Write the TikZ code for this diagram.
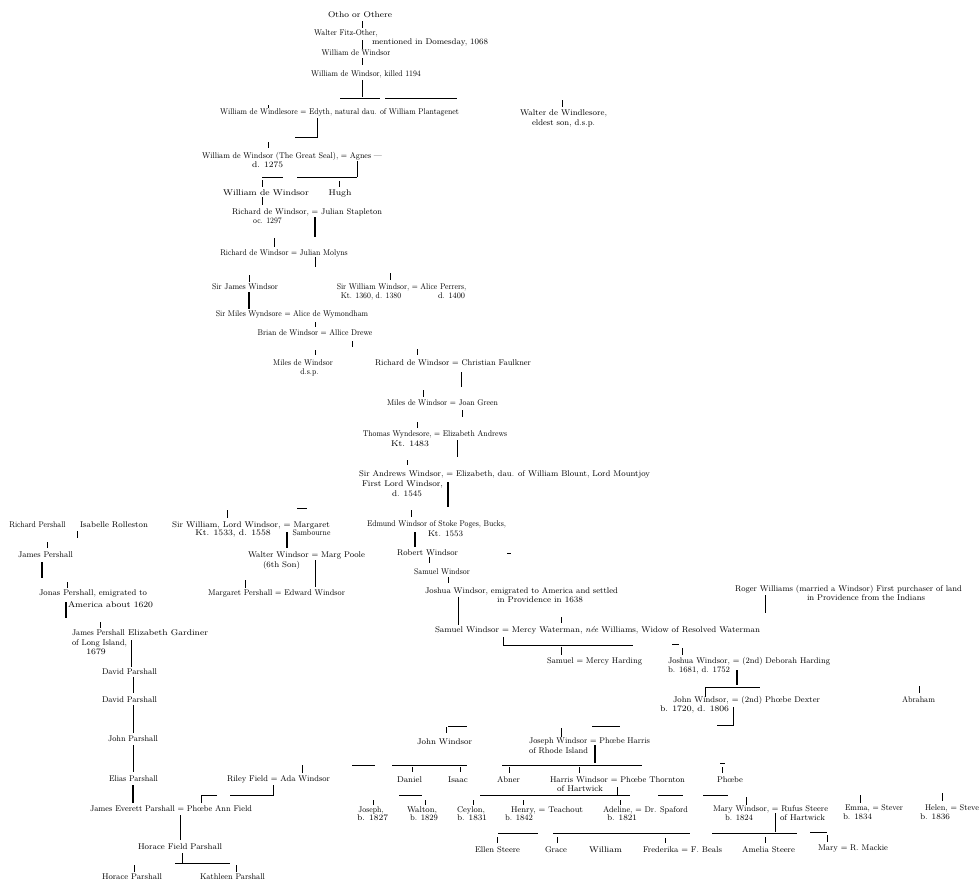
\documentclass[tikz,border=0pt]{standalone}
\newlength\Twd
\newsavebox\Tbox
\begin{document}
\begin{tikzpicture}[x=1pt,y=-1pt,
  nm/.style={anchor=center,inner sep=0pt,font=\fontsize{8.3}{10}\selectfont},
  ln/.style={line width=0.6pt},
  lnb/.style={line width=1.1pt}]
\useasboundingbox[fill=white] (0,0) rectangle (979,892);
\newcommand\Tx[5]{%
  \node[nm] (#1) at ({#2+#4/2},#3) {\sbox\Tbox{#5}\setlength\Twd{\wd\Tbox}%
    \pgfmathsetmacro\Tr{max(0.88,min(1.1,#4/\Twd))}\scalebox{\Tr}[1]{\usebox\Tbox}};}
% ---------- Windsor main line ----------
\Tx{otho}{328}{15}{64}{Otho or Othere}
\Tx{walter}{322}{33}{48}{Walter Fitz-Other,}
\Tx{waltera}{372}{42}{116}{mentioned in Domesday, 1068}
\Tx{wdwa}{322}{53}{68}{William de Windsor}
\Tx{wdwb}{317}{74}{98}{William de Windsor, killed 1194}
\Tx{wwind}{222}{112}{235}{William de Windlesore = Edyth, natural dau. of William Plantagenet}
\Tx{walterw}{520}{113}{87}{Walter de Windlesore,}
\Tx{walterwa}{532}{123}{63}{eldest son, d.s.p.}
\Tx{gseal}{202}{156}{180}{William de Windsor (The Great Seal), = Agnes ---}
\Tx{gseala}{252}{165}{31}{d. 1275}
\Tx{wdwc}{222}{193}{88}{William de Windsor}
\Tx{hugh}{328}{193}{24}{Hugh}
\Tx{richa}{232}{212}{150}{Richard de Windsor, = Julian Stapleton}
\Tx{richaa}{257}{221}{21}{oc. 1297}
\Tx{richb}{230}{253}{108}{Richard de Windsor = Julian Molyns}
\Tx{james}{212}{287}{66}{Sir James Windsor}
\Tx{swill}{340}{287}{123}{Sir William Windsor, = Alice Perrers,}
\Tx{swilla}{342}{296}{58}{Kt. 1360, d. 1380}
\Tx{swillb}{438}{296}{27}{d. 1400}
\Tx{miles}{232}{314}{120}{Sir Miles Wyndsore = Alice de Wymondham}
\Tx{brian}{278}{333}{74}{Brian de Windsor = Allice Drewe}
\Tx{milesb}{278}{363}{50}{Miles de Windsor}
\Tx{milesba}{303}{372}{13}{d.s.p.}
\Tx{richc}{375}{363}{156}{Richard de Windsor = Christian Faulkner}
\Tx{milesc}{387}{403}{111}{Miles de Windsor = Joan Green}
\Tx{thomas}{373}{434}{124}{Thomas Wyndesore, = Elizabeth Andrews}
\Tx{thomasa}{388}{444}{44}{Kt. 1483}
\Tx{andrews}{359}{474}{291}{Sir Andrews Windsor, = Elizabeth, dau. of William Blount, Lord Mountjoy}
\Tx{andrewsa}{362}{484}{81}{First Lord Windsor,}
\Tx{andrewsb}{392}{494}{30}{d. 1545}
\Tx{edmund}{378}{524}{117}{Edmund Windsor of Stoke Poges, Bucks,}
\Tx{edmunda}{428}{534}{35}{Kt. 1553}
\Tx{robert}{397}{553}{61}{Robert Windsor}
\Tx{samuel}{416}{572}{52}{Samuel Windsor}
\Tx{joshua}{425}{591}{193}{Joshua Windsor, emigrated to America and settled}
\Tx{joshuaa}{497}{600}{86}{in Providence in 1638}
\Tx{roger}{735}{589}{227}{Roger Williams (married a Windsor) First purchaser of land}
\Tx{rogera}{807}{598}{118}{in Providence from the Indians}
\Tx{samuelb}{435}{630}{325}{Samuel Windsor = Mercy Waterman, \textit{née} Williams, Widow of Resolved Waterman}
\Tx{samh}{547}{661}{95}{Samuel = Mercy Harding}
\Tx{joshuab}{668}{661}{162}{Joshua Windsor, = (2nd) Deborah Harding}
\Tx{joshuaba}{668}{670}{62}{b. 1681, d. 1752}
\Tx{johna}{673}{700}{147}{John Windsor, = (2nd) Phœbe Dexter}
\Tx{johnaa}{660}{709}{69}{b. 1720, d. 1806}
\Tx{abraham}{902}{700}{33}{Abraham}
\Tx{johnw}{417}{742}{55}{John Windsor}
\Tx{joseph}{529}{741}{121}{Joseph Windsor = Phœbe Harris}
\Tx{josepha}{529}{751}{59}{of Rhode Island}
\Tx{daniel}{397}{780}{25}{Daniel}
\Tx{isaac}{448}{780}{20}{Isaac}
\Tx{abner}{497}{780}{23}{Abner}
\Tx{harris}{550}{780}{135}{Harris Windsor = Phœbe Thornton}
\Tx{harrisa}{557}{789}{46}{of Hartwick}
\Tx{phoebe}{717}{780}{26}{Phœbe}
\Tx{josephb}{360}{810}{22}{Joseph,}
\Tx{josephba}{357}{818}{31}{b. 1827}
\Tx{walton}{407}{810}{30}{Walton,}
\Tx{waltona}{410}{818}{28}{b. 1829}
\Tx{ceylon}{457}{810}{28}{Ceylon,}
\Tx{ceylona}{457}{818}{30}{b. 1831}
\Tx{henry}{511}{810}{72}{Henry, = Teachout}
\Tx{henrya}{505}{818}{28}{b. 1842}
\Tx{adeline}{603}{810}{85}{Adeline, = Dr. Spaford}
\Tx{adelinea}{607}{818}{30}{b. 1821}
\Tx{mary}{713}{809}{115}{Mary Windsor, = Rufus Steere}
\Tx{marya}{725}{818}{28}{b. 1824}
\Tx{maryb}{780}{818}{45}{of Hartwick}
\Tx{emma}{845}{808}{58}{Emma, = Stever}
\Tx{emmaa}{843}{817}{29}{b. 1834}
\Tx{helen}{925}{808}{54}{Helen, = Steve}
\Tx{helena}{920}{817}{30}{b. 1836}
\Tx{ellen}{475}{850}{45}{Ellen Steere}
\Tx{grace}{545}{850}{22}{Grace}
\Tx{william}{589}{850}{33}{William}
\Tx{frederika}{643}{850}{79}{Frederika = F. Beals}
\Tx{amelia}{742}{850}{53}{Amelia Steere}
\Tx{marym}{818}{848}{70}{Mary = R. Mackie}
% ---------- Pershall line ----------
\Tx{richp}{10}{525}{55}{Richard Pershall}
\Tx{isab}{80}{525}{68}{Isabelle Rolleston}
\Tx{jamesp}{18}{555}{55}{James Pershall}
\Tx{jonas}{39}{593}{108}{Jonas Pershall, emigrated to}
\Tx{jonasa}{68}{605}{85}{America about 1620}
\Tx{jamespb}{72}{633}{53}{James Pershall}
\Tx{eliz}{128}{633}{80}{Elizabeth Gardiner}
\Tx{jamespba}{72}{643}{55}{of Long Island,}
\Tx{jamespbb}{85}{652}{22}{1679}
\Tx{davida}{102}{672}{55}{David Parshall}
\Tx{davidb}{102}{700}{55}{David Parshall}
\Tx{johnp}{108}{739}{50}{John Parshall}
\Tx{elias}{109}{779}{49}{Elias Parshall}
\Tx{riley}{227}{779}{103}{Riley Field = Ada Windsor}
\Tx{jep}{90}{809}{162}{James Everett Parshall = Phœbe Ann Field}
\Tx{hfp}{138}{847}{84}{Horace Field Parshall}
\Tx{hp}{102}{877}{60}{Horace Parshall}
\Tx{kp}{200}{877}{65}{Kathleen Parshall}
\Tx{swl}{172}{525}{158}{Sir William, Lord Windsor, = Margaret}
\Tx{swla}{193}{533}{80}{Kt. 1533, d. 1558}
\Tx{swlb}{293}{533}{37}{Sambourne}
\Tx{wwp}{248}{555}{117}{Walter Windsor = Marg Poole}
\Tx{wwpa}{263}{565}{37}{(6th Son)}
\Tx{mpew}{208}{593}{137}{Margaret Pershall = Edward Windsor}
% ---------- connectors ----------
\draw[ln] (362,21)--(362,28);
\draw[ln] (362,40)--(362,49);
\draw[ln] (362,58)--(362,65);
\draw[ln] (362,80)--(362,97);
\draw[ln] (340,98)--(380,98) (385,98)--(457,98);
\draw[ln] (268,105)--(268,108);
\draw[ln] (562,100)--(562,107);
\draw[ln] (317,118)--(317,137)--(295,137);
\draw[ln] (268,142)--(268,148);
\draw[ln] (357,161)--(357,177);
\draw[ln] (262,177)--(283,177) (297,177)--(357,177);
\draw[ln] (262,180)--(262,187) (339,181)--(339,187);
\draw[ln] (262,197)--(262,205);
\draw[lnb] (315,217)--(315,237);
\draw[ln] (274,238)--(274,247);
\draw[ln] (315,257)--(315,267);
\draw[ln] (249,275)--(249,282) (390,273)--(390,280);
\draw[lnb] (249,292)--(249,309);
\draw[ln] (315,322)--(315,327);
\draw[ln] (352,341)--(352,347);
\draw[ln] (315,350)--(315,355) (417,349)--(417,355);
\draw[ln] (461,372)--(461,387);
\draw[ln] (423,390)--(423,397);
\draw[ln] (462,410)--(462,417);
\draw[ln] (417,422)--(417,428);
\draw[ln] (457,440)--(457,457);
\draw[ln] (407,460)--(407,465);
\draw[lnb] (448,482)--(448,507);
\draw[ln] (411,510)--(411,517);
\draw[lnb] (415,532)--(415,547);
\draw[ln] (507,553)--(511,553);
\draw[ln] (429,557)--(429,563);
\draw[ln] (448,577)--(448,583);
\draw[ln] (458,597)--(458,625);
\draw[ln] (561,617)--(561,623);
\draw[ln] (765,595)--(765,613);
\draw[ln] (503,637)--(503,645)--(633,645);
\draw[ln] (672,644)--(679,644);
\draw[ln] (561,647)--(561,655);
\draw[ln] (682,648)--(682,655);
\draw[lnb] (737,670)--(737,685);
\draw[ln] (705,697)--(705,687)--(760,687);
\draw[ln] (919,686)--(919,693);
\draw[ln] (733,707)--(733,725)--(717,725);
\draw[ln] (448,726)--(467,726);
\draw[ln] (446,727)--(446,733);
\draw[ln] (561,728)--(561,737);
\draw[ln] (592,726)--(620,726);
\draw[lnb] (595,745)--(595,763);
\draw[ln] (352,765)--(375,765) (392,765)--(467,765) (502,765)--(642,765);
\draw[ln] (412,767)--(412,772) (460,767)--(460,772) (509,767)--(509,773) (579,767)--(579,773);
\draw[ln] (720,763)--(725,763);
\draw[ln] (722,767)--(722,773);
\draw[ln] (617,787)--(617,795);
\draw[ln] (399,795)--(422,795) (480,795)--(630,795) (658,795)--(683,795) (703,795)--(728,795);
\draw[ln] (373,800)--(373,805) (425,800)--(425,805) (473,800)--(473,805) (523,800)--(523,805) (620,800)--(620,805);
\draw[ln] (746,797)--(746,805) (860,795)--(860,803) (942,793)--(942,801);
\draw[ln] (775,813)--(775,832);
\draw[ln] (498,833)--(538,833) (553,833)--(690,833) (712,833)--(797,833) (810,832)--(827,832);
\draw[ln] (497,837)--(497,843) (557,837)--(557,843) (665,838)--(665,843) (765,837)--(765,843) (827,835)--(827,842);
% Pershall connectors
\draw[ln] (77,531)--(77,538);
\draw[ln] (47,542)--(47,548);
\draw[lnb] (42,562)--(42,578);
\draw[ln] (67,582)--(67,588);
\draw[lnb] (66,602)--(66,618);
\draw[ln] (100,622)--(100,628);
\draw[ln] (131,640)--(131,667);
\draw[ln] (133,677)--(133,693);
\draw[ln] (133,705)--(133,733);
\draw[ln] (133,745)--(133,772);
\draw[lnb] (133,785)--(133,803);
\draw[ln] (302,765)--(302,773);
\draw[ln] (273,785)--(273,795)--(230,795) (217,795)--(201,795)--(201,803);
\draw[ln] (180,815)--(180,840);
\draw[ln] (182,853)--(182,863) (175,863)--(230,863);
\draw[ln] (134,865)--(134,872) (236,865)--(236,872);
\draw[ln] (227,510)--(227,518);
\draw[ln] (297,508)--(307,508);
\draw[lnb] (287,532)--(287,548);
\draw[ln] (315,560)--(315,587);
\draw[ln] (245,580)--(245,588);
\end{tikzpicture}
\end{document}
